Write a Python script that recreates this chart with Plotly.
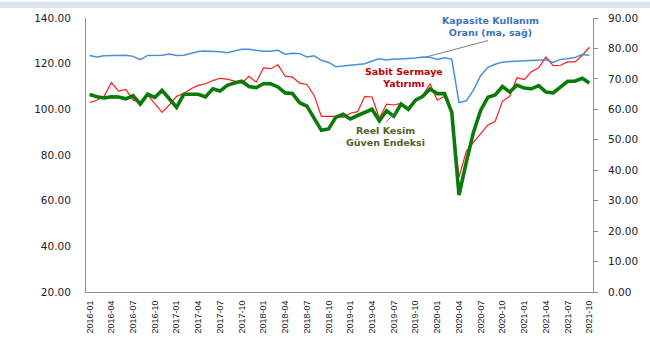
import plotly.graph_objects as go

months = [f"{y}-{m:02d}" for y in range(2016, 2022) for m in range(1, 13)][:70]

# Reel Kesim Güven Endeksi (left axis)
rkge = [106.5, 105.5, 105.0, 105.5, 105.4, 104.6, 106.0, 102.3, 106.6, 105.2,
        108.3, 104.3, 100.9, 106.6, 106.7, 106.6, 105.4, 109.0, 108.0, 110.5,
        111.5, 112.3, 110.0, 109.5, 111.2, 111.2, 109.8, 107.2, 106.9, 102.9,
        101.4, 96.1, 90.8, 91.4, 96.6, 97.8, 95.8, 97.3, 98.6, 100.0,
        95.0, 99.4, 97.0, 102.3, 100.0, 104.0, 105.7, 108.9, 106.9, 106.9,
        98.7, 62.4, 76.8, 90.0, 99.6, 105.3, 106.3, 110.0, 107.6, 110.6,
        109.3, 109.0, 110.4, 107.6, 107.2, 109.8, 112.3, 112.3, 113.6, 111.5]

# Sabit Sermaye Yatırımı (left axis)
ssy = [103.0, 104.0, 105.7, 111.7, 108.0, 108.7, 104.0, 103.3, 106.3, 102.3,
       98.7, 101.9, 105.7, 106.9, 109.0, 110.5, 111.2, 112.6, 113.6, 113.2,
       112.3, 111.5, 114.5, 111.9, 118.1, 117.8, 119.5, 114.5, 114.1, 111.5,
       110.9, 106.1, 96.9, 96.9, 96.9, 96.5, 98.3, 99.0, 105.7, 105.4,
       96.1, 102.3, 101.9, 102.6, 100.0, 104.0, 106.1, 111.2, 104.0, 105.7,
       99.0, 70.3, 81.5, 85.5, 89.3, 93.2, 94.8, 103.5, 105.7, 113.8,
       113.0, 116.5, 118.2, 122.9, 119.1, 119.3, 120.8, 120.8, 123.6, 127.2]

# Kapasite Kullanım Oranı (ma, right axis)
kko = [77.7, 77.2, 77.6, 77.7, 77.7, 77.8, 77.4, 76.3, 77.7, 77.7,
       77.8, 78.2, 77.7, 77.8, 78.3, 79.0, 79.2, 79.1, 78.9, 78.6,
       79.1, 79.7, 79.7, 79.3, 79.1, 79.1, 79.4, 78.1, 78.4, 78.3,
       77.2, 77.6, 76.1, 75.4, 74.0, 74.2, 74.5, 74.6, 75.0, 75.9,
       76.6, 76.2, 76.5, 76.5, 76.6, 76.9, 77.2, 77.1, 76.4, 76.9,
       76.5, 62.2, 62.8, 66.3, 71.1, 73.8, 74.8, 75.5, 75.7, 75.8,
       75.8, 75.9, 76.0, 76.3, 75.4, 76.4, 76.6, 77.0, 78.0, 77.8]

tick_idx = list(range(0, 70, 3))
tick_txt = [months[i] for i in tick_idx]
xs = list(range(len(months)))

fig = go.Figure()
fig.add_trace(go.Scatter(x=xs, y=kko, yaxis="y2", mode="lines",
                         line=dict(color="#4A8FDB", width=1.5), name="KKO"))
fig.add_trace(go.Scatter(x=xs, y=ssy, mode="lines",
                         line=dict(color="#FF1A1A", width=1.2), name="SSY"))
fig.add_trace(go.Scatter(x=xs, y=rkge, mode="lines",
                         line=dict(color="#0A7A0A", width=3.6), name="RKGE"))

annfont = dict(family="DejaVu Sans", size=9.5)
fig.add_annotation(x=55.4, y=136.3, xref="x", yref="y", showarrow=False,
                   text="<b>Kapasite Kullanım<br>Oranı (ma, sağ)</b>",
                   font=dict(color="#3B73BF", **annfont))
fig.add_annotation(x=43.4, y=113.8, xref="x", yref="y", showarrow=False,
                   text="<b>Sabit Sermaye<br>Yatırımı</b>",
                   font=dict(color="#C00000", **annfont))
fig.add_annotation(x=40.8, y=88.0, xref="x", yref="y", showarrow=False,
                   text="<b>Reel Kesim<br>Güven Endeksi</b>",
                   font=dict(color="#4F6228", **annfont))

fig.add_shape(type="line", xref="x", yref="y", x0=46.3, y0=122.8, x1=55.0, y1=130.1,
              line=dict(color="#7F7F7F", width=1))
fig.add_shape(type="line", xref="x", yref="y", x0=40.9, y0=94.3, x1=42.3, y1=99.1,
              line=dict(color="#7F7F7F", width=1))
fig.add_shape(type="rect", xref="paper", yref="paper", x0=-0.2, x1=1.2, y0=1.0365, y1=1.06,
              fillcolor="#DCE6F2", line=dict(width=0), layer="below")

fig.update_layout(
    width=650, height=360,
    margin=dict(l=86, r=51, t=13, b=68),
    paper_bgcolor="white", plot_bgcolor="white",
    showlegend=False,
    xaxis=dict(range=[-0.5, 69.5], tickmode="array", tickvals=tick_idx, ticktext=tick_txt,
               tickangle=-90, tickfont=dict(family="Liberation Sans", size=9, color="#222"),
               showgrid=False, zeroline=False, showline=True, linecolor="#8C8C8C",
               linewidth=1, ticks="", ticklabelstandoff=4),
    yaxis=dict(range=[20, 140], dtick=20, tickformat=".2f",
               tickfont=dict(family="DejaVu Sans", size=10.5, color="#222"),
               showgrid=False, zeroline=False, showline=True, linecolor="#8C8C8C",
               linewidth=1, ticks="", ticklabelstandoff=12),
    yaxis2=dict(range=[0, 90], dtick=10, tickformat=".2f", overlaying="y", side="right",
                tickfont=dict(family="DejaVu Sans", size=10.5, color="#222"),
                showgrid=False, zeroline=False, showline=True, linecolor="#8C8C8C",
                linewidth=1, ticks="outside", ticklen=4, tickcolor="#8C8C8C",
                ticklabelstandoff=8),
)

fig.write_html("out.html",
               config={"displayModeBar": False},
               post_script="document.body.style.margin='0px';document.body.style.overflow='hidden';")
